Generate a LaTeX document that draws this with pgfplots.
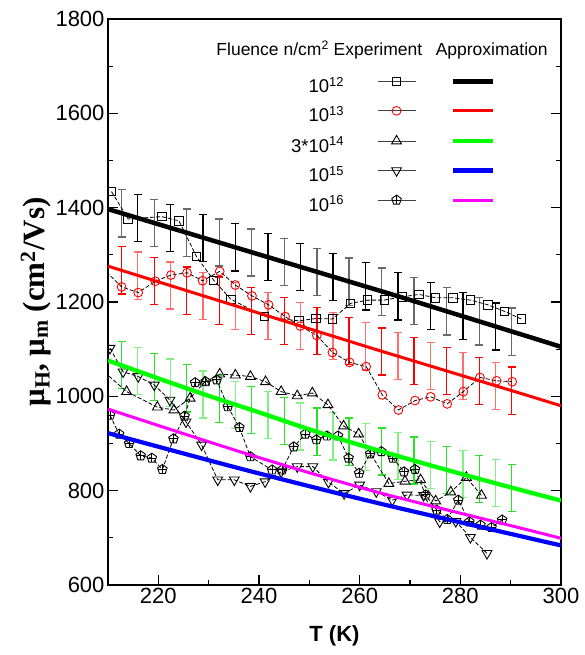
\documentclass[border=0pt]{standalone}
\usepackage{fontspec}
\setmainfont{Liberation Sans}
\newfontfamily\timesfont{Liberation Serif}
\usepackage{pgfplots}
\pgfplotsset{compat=1.18}
\usetikzlibrary{plotmarks}

\definecolor{gbar}{RGB}{105,105,105}
\definecolor{rlight}{RGB}{255,110,110}
\definecolor{gdark}{RGB}{40,225,40}
\definecolor{glight}{RGB}{130,240,130}
\definecolor{lgreen}{RGB}{0,255,0}
\definecolor{mag}{RGB}{255,0,255}
\definecolor{blu}{RGB}{0,0,255}

% pentagon with a cross inside
\pgfdeclareplotmark{pentplus}{%
  \pgfuseplotmark{pentagon}%
  \pgfpathmoveto{\pgfqpoint{-0.85\pgfplotmarksize}{0pt}}%
  \pgfpathlineto{\pgfqpoint{0.85\pgfplotmarksize}{0pt}}%
  \pgfpathmoveto{\pgfqpoint{0pt}{\pgfplotmarksize}}%
  \pgfpathlineto{\pgfqpoint{0pt}{-0.809\pgfplotmarksize}}%
  \pgfusepathqstroke}

\pgfplotsset{
  mleg/.style={legend image code/.code={\draw[mark repeat=2,mark phase=2,yshift=6pt,##1] plot coordinates {(0pt,0pt)(19pt,0pt)(38pt,0pt)};}},
  aleg/.style={legend image code/.code={\draw[yshift=6pt,##1] (0pt,0pt) -- (40pt,0pt);}},
  conn/.style={black, line width=0.8pt, dash pattern=on 4pt off 2pt, forget plot},
  ebar/.style={draw=none, mark=none, forget plot, error bars/.cd, y dir=both, y explicit,
    error bar style={draw=#1, line width=1.3pt},
    error mark options={draw=#1, line width=1.3pt, mark size=4pt, rotate=90}},
}

\begin{document}
\begin{tikzpicture}
\begin{axis}[
  scale only axis, width=453pt, height=566pt,
  xmin=210, xmax=300, ymin=600, ymax=1800,
  xtick={220,240,...,300}, minor xtick={210,230,...,290},
  ytick={600,800,...,1800}, minor ytick={700,900,...,1700},
  xtick pos=left, ytick pos=both,
  tick align=inside,
  major tick length=10pt, minor tick length=5pt,
  every tick/.style={black, line width=1.2pt},
  axis line style={line width=1.5pt},
  tick label style={font=\fontsize{22}{26}\selectfont},
  /pgf/number format/assume math mode=true,
  /pgf/number format/1000 sep={},
  xlabel={\bfseries T (K)},
  ylabel={\timesfont\bfseries μ\textsubscript{H}, μ\textsubscript{m} (cm\textsuperscript{2}/Vs)},
  xlabel style={font=\fontsize{22}{26}\selectfont, yshift=-15pt},
  ylabel style={font=\fontsize{31}{35}\selectfont, yshift=-2pt},
  clip marker paths=true,
  legend columns=2, legend plot pos=right, legend cell align=right,
  legend style={at={(0.856,0.899)}, anchor=north east, draw=none, fill=none,
    inner sep=0pt, font=\fontsize{18.5}{22}\selectfont, column sep=0pt, row sep=7.5pt,
    nodes={inner xsep=1pt, inner ysep=1pt, text height=15pt, text depth=5pt}},
]

% error bars, centred on the approximation curves
\addplot[ebar=gbar] coordinates {(212.7,1388) +- (0,50) (219.2,1367) +- (0,50) (225.6,1347) +- (0,50) (232.1,1326) +- (0,50) (238.5,1305) +- (0,50) (245.0,1285) +- (0,50) (251.5,1264) +- (0,50) (257.9,1243) +- (0,50) (264.4,1222) +- (0,50) (270.8,1202) +- (0,50) (277.3,1180) +- (0,50) (283.8,1159) +- (0,50) (290.2,1137) +- (0,50)};
\addplot[ebar=black] coordinates {(215.9,1378) +- (0,50) (222.4,1357) +- (0,50) (228.9,1336) +- (0,50) (235.3,1316) +- (0,50) (241.8,1295) +- (0,50) (248.2,1274) +- (0,50) (254.7,1253) +- (0,50) (261.2,1233) +- (0,50) (267.6,1212) +- (0,50) (274.1,1191) +- (0,50) (280.5,1170) +- (0,50) (287.0,1148) +- (0,50)};
\addplot[ebar=red] coordinates {(212.7,1267) +- (0,50) (219.2,1245) +- (0,50) (225.6,1224) +- (0,50) (232.1,1203) +- (0,50) (238.5,1181) +- (0,50) (245.0,1160) +- (0,50) (251.5,1138) +- (0,50) (257.9,1117) +- (0,50) (264.4,1095) +- (0,50) (270.8,1075) +- (0,50) (277.3,1054) +- (0,50) (283.8,1033) +- (0,50) (290.2,1012) +- (0,50)};
\addplot[ebar=rlight] coordinates {(215.9,1256) +- (0,50) (222.4,1235) +- (0,50) (228.9,1213) +- (0,50) (235.3,1192) +- (0,50) (241.8,1170) +- (0,50) (248.2,1149) +- (0,50) (254.7,1128) +- (0,50) (261.2,1106) +- (0,50) (267.6,1085) +- (0,50) (274.1,1064) +- (0,50) (280.5,1043) +- (0,50) (287.0,1022) +- (0,50)};
\addplot[ebar=gdark] coordinates {(212.7,1066) +- (0,50) (219.2,1041) +- (0,50) (225.6,1017) +- (0,50) (232.1,994) +- (0,50) (238.5,971) +- (0,50) (245.0,948) +- (0,50) (251.5,925) +- (0,50) (257.9,904) +- (0,50) (264.4,883) +- (0,50) (270.8,864) +- (0,50) (277.3,844) +- (0,50) (283.8,825) +- (0,50) (290.2,806) +- (0,50)};
\addplot[ebar=glight] coordinates {(215.9,1054) +- (0,50) (222.4,1029) +- (0,50) (228.9,1004) +- (0,50) (235.3,982) +- (0,50) (241.8,960) +- (0,50) (248.2,936) +- (0,50) (254.7,915) +- (0,50) (261.2,893) +- (0,50) (267.6,873) +- (0,50) (274.1,854) +- (0,50) (280.5,835) +- (0,50) (287.0,816) +- (0,50)};

% experiment
\addplot[conn, mark=square, mark size=4.2pt, mark options={solid, black, line width=0.9pt}] coordinates {
(210.7,1434)(214.0,1376)(220.7,1381)(224.1,1372)(227.6,1296)(231.0,1246)(234.4,1206)(241.1,1169)(247.9,1160)(251.3,1165)(254.6,1164)(258.2,1197)(261.6,1204)(264.9,1204)(268.4,1211)(271.8,1216)(275.1,1209)(278.5,1209)(282.0,1204)(285.5,1194)(288.8,1180)(292.1,1164)};
\addplot[conn, mark=o, mark size=4.4pt, mark options={solid, red, line width=0.9pt}] coordinates {
(209.7,1264)(212.7,1232)(216.0,1220)(219.4,1244)(222.5,1257)(225.7,1262)(228.8,1245)(232.2,1265)(235.3,1236)(238.6,1213)(241.9,1194)(245.2,1169)(248.2,1149)(251.5,1129)(254.6,1093)(258.0,1072)(261.3,1063)(264.5,1003)(267.7,971)(271.0,991)(274.1,999)(277.4,984)(280.6,1010)(283.9,1040)(287.2,1033)(290.3,1031)};
\addplot[conn, mark=triangle, mark size=5.7pt, mark options={solid, black, line width=0.9pt}] coordinates {
(207.5,1068)(213.7,1010)(219.8,977)(223.1,971)(226.3,996)(229.2,1030)(232.2,1047)(235.3,1045)(238.3,1042)(241.3,1031)(244.4,1010)(247.6,1001)(250.6,1007)(253.7,982)(256.8,937)(259.8,920)(265.8,815)(269.0,820)(272.1,823)(275.1,778)(278.1,797)(281.2,828)(284.2,790)};
\addplot[conn, mark=triangle, mark size=5.7pt, mark options={solid, rotate=180, black, line width=0.9pt}] coordinates {
(210.4,1102)(213.0,1052)(216.0,1042)(219.2,1024)(222.3,992)(225.5,946)(228.6,897)(231.8,823)(235.1,823)(238.3,809)(241.2,819)(244.4,840)(247.6,851)(250.7,851)(253.8,818)(256.9,794)(260.0,812)(263.3,798)(266.5,780)(269.4,791)(272.7,790)(275.9,734)(279.1,735)(282.0,701)(285.3,667)};
\addplot[conn, mark=pentplus, mark size=5pt, mark options={solid, black, line width=0.9pt}] coordinates {
(210.4,960)(212.2,920)(214.2,900)(216.5,874)(218.7,869)(220.8,845)(223.0,910)(225.2,958)(227.3,1029)(229.4,1031)(231.6,1035)(233.8,978)(236.1,934)(238.3,872)(242.6,844)(244.6,844)(246.9,893)(249.2,920)(251.4,908)(253.5,916)(255.7,916)(257.8,869)(259.9,837)(262.1,878)(264.3,883)(266.6,869)(268.8,840)(271.0,845)(273.1,791)(275.3,759)(277.4,739)(279.6,780)(281.8,734)(284.0,727)(286.2,722)(288.3,738)};

% approximation
\addplot[black, line width=4.5pt, forget plot] coordinates {(210,1397)(268,1211)(294,1125)(300,1105)};
\addplot[red, line width=3pt, forget plot] coordinates {(210,1276)(263,1100)(293,1003)(300,980)};
\addplot[lgreen, line width=4.3pt, smooth, forget plot] coordinates {(210,1076)(220,1038)(230,1001)(240,966)(250,930)(260,897)(270,866)(280,836)(290,807)(300,779)};
\addplot[mag, line width=3pt, smooth, forget plot] coordinates {(210,973)(237.3,879)(263.1,798)(293,718)(300,699)};
\addplot[blu, line width=4.2pt, smooth, forget plot] coordinates {(210,922)(237.3,844)(263.1,775)(293,701)(300,684)};

% legend
\addlegendimage{mleg, black!75, line width=1pt, mark=square, mark size=4.2pt, mark options={solid, black, line width=0.9pt}}
\addlegendentry{10\textsuperscript{12}\kern32pt}
\addlegendimage{aleg, black, line width=4.5pt}
\addlegendentry{\kern33pt}
\addlegendimage{mleg, black!75, line width=1pt, mark=o, mark size=4.4pt, mark options={solid, red, line width=0.9pt}}
\addlegendentry{10\textsuperscript{13}\kern32pt}
\addlegendimage{aleg, red, line width=3pt}
\addlegendentry{\kern33pt}
\addlegendimage{mleg, black!75, line width=1pt, mark=triangle, mark size=5.7pt, mark options={solid, black, line width=0.9pt}}
\addlegendentry{3*10\textsuperscript{14}\kern32pt}
\addlegendimage{aleg, lgreen, line width=4.3pt}
\addlegendentry{\kern33pt}
\addlegendimage{mleg, black!75, line width=1pt, mark=triangle, mark size=5.7pt, mark options={solid, rotate=180, black, line width=0.9pt}}
\addlegendentry{10\textsuperscript{15}\kern32pt}
\addlegendimage{aleg, blu, line width=4.2pt}
\addlegendentry{\kern33pt}
\addlegendimage{mleg, black!75, line width=1pt, mark=pentplus, mark size=5pt, mark options={solid, black, line width=0.9pt}}
\addlegendentry{10\textsuperscript{16}\kern32pt}
\addlegendimage{aleg, mag, line width=3pt}
\addlegendentry{\kern33pt}

\node[font=\fontsize{17.5}{20}\selectfont] at (rel axis cs:0.605,0.945)
  {Fluence n/cm\textsuperscript{2} Experiment\hspace{0.5em} Approximation};
\end{axis}
\pgfresetboundingbox
\path (-108pt,-70pt) rectangle (476pt,585pt);
\end{tikzpicture}
\end{document}
